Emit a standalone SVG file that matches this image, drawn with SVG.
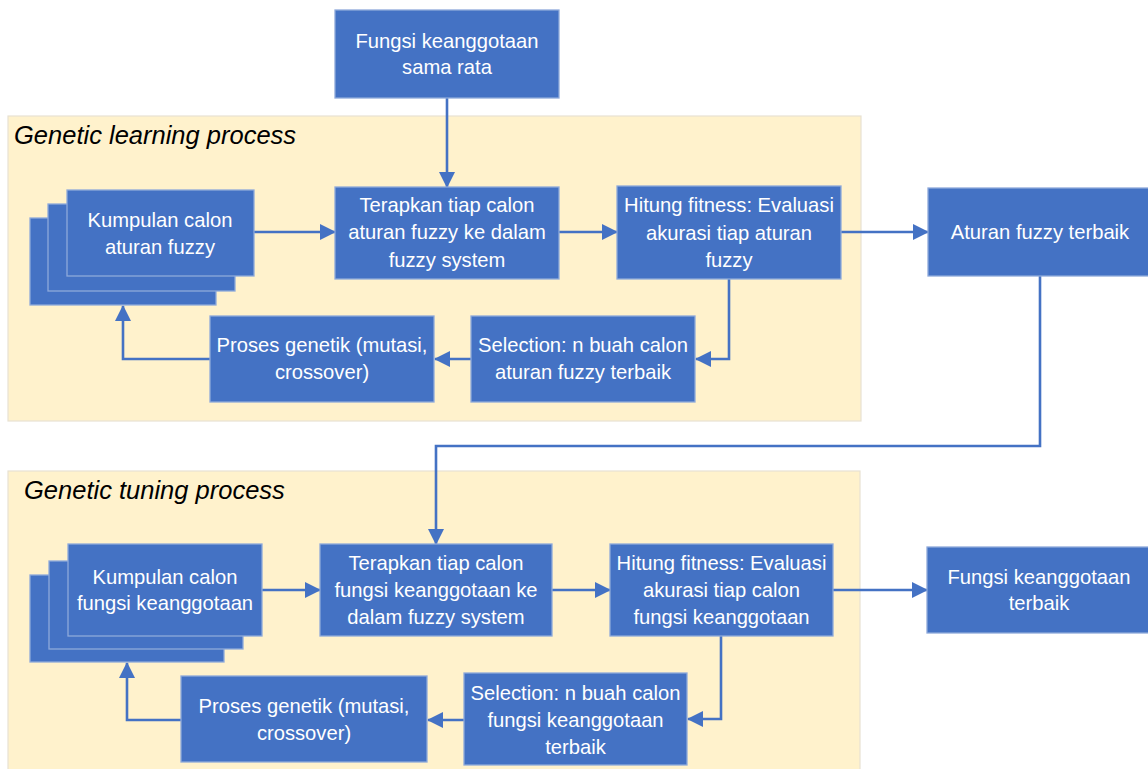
<svg xmlns="http://www.w3.org/2000/svg" width="1148" height="769" viewBox="0 0 1148 769">
<defs>
<style>
.bg{fill:#FFF2CC;stroke:#E8E2D2;stroke-width:1.2}
.box{fill:#4472C4;stroke:#8EA9DB;stroke-width:1.3}
.t{font-family:"Liberation Sans",Arial,sans-serif;font-size:20.2px;fill:#FFFFFF;text-anchor:middle}
.title{font-family:"Liberation Sans",Arial,sans-serif;font-size:25.5px;font-style:italic;fill:#000000}
.c{fill:none;stroke:#4472C4;stroke-width:2.6}
</style>
<marker id="arr" viewBox="0 0 16 16" refX="15" refY="8" markerWidth="16" markerHeight="16" markerUnits="userSpaceOnUse" orient="auto">
<path d="M0,0 L16,8 L0,16 z" fill="#4472C4"/>
</marker>
</defs>
<rect width="1148" height="769" fill="#FFFFFF"/>
<g id="learning-bg">
<rect class="bg" x="8" y="116" width="853" height="305"/>
<text class="title" x="14" y="144">Genetic learning process</text>
</g>
<g id="tuning-bg">
<rect class="bg" x="8" y="471" width="852" height="300"/>
<text class="title" x="24" y="499">Genetic tuning process</text>
</g>
<g id="connectors">
<path class="c" d="M447,98 V187" marker-end="url(#arr)"/>
<path class="c" d="M254,232 H335" marker-end="url(#arr)"/>
<path class="c" d="M559,232 H617" marker-end="url(#arr)"/>
<path class="c" d="M841,232 H928" marker-end="url(#arr)"/>
<path class="c" d="M729,279 V359 H696" marker-end="url(#arr)"/>
<path class="c" d="M471,359 H435" marker-end="url(#arr)"/>
<path class="c" d="M210,359 H123 V306" marker-end="url(#arr)"/>
<path class="c" d="M1040,276 V446 H436 V544" marker-end="url(#arr)"/>
<path class="c" d="M262,590 H320" marker-end="url(#arr)"/>
<path class="c" d="M552,590 H610" marker-end="url(#arr)"/>
<path class="c" d="M833,590 H927" marker-end="url(#arr)"/>
<path class="c" d="M721,636 V719 H688" marker-end="url(#arr)"/>
<path class="c" d="M464,720 H428" marker-end="url(#arr)"/>
<path class="c" d="M181,720 H127 V663" marker-end="url(#arr)"/>
</g>
<g id="fungsi-sama-rata">
<rect class="box" x="335" y="10" width="224" height="88"/>
<text class="t" x="447" y="48">Fungsi keanggotaan</text>
<text class="t" x="447" y="74">sama rata</text>
</g>
<g id="kumpulan-aturan">
<rect class="box" x="30" y="218" width="186" height="87"/>
<rect class="box" x="48" y="204" width="187" height="87"/>
<rect class="box" x="67" y="190" width="187" height="86"/>
<text class="t" x="160" y="227">Kumpulan calon</text>
<text class="t" x="160" y="254">aturan fuzzy</text>
</g>
<g id="terapkan-aturan">
<rect class="box" x="335" y="187" width="224" height="92"/>
<text class="t" x="447" y="212">Terapkan tiap calon</text>
<text class="t" x="447" y="239">aturan fuzzy ke dalam</text>
<text class="t" x="447" y="267">fuzzy system</text>
</g>
<g id="hitung-aturan">
<rect class="box" x="617" y="186" width="224" height="93"/>
<text class="t" x="729" y="212">Hitung fitness: Evaluasi</text>
<text class="t" x="729" y="240">akurasi tiap aturan</text>
<text class="t" x="729" y="267">fuzzy</text>
</g>
<g id="aturan-terbaik">
<rect class="box" x="928" y="188" width="224" height="88"/>
<text class="t" x="1040" y="239">Aturan fuzzy terbaik</text>
</g>
<g id="selection-aturan">
<rect class="box" x="471" y="316" width="224" height="86"/>
<text class="t" x="583" y="352">Selection: n buah calon</text>
<text class="t" x="583" y="379">aturan fuzzy terbaik</text>
</g>
<g id="proses-aturan">
<rect class="box" x="210" y="316" width="224" height="86"/>
<text class="t" x="322" y="352">Proses genetik (mutasi,</text>
<text class="t" x="322" y="379">crossover)</text>
</g>
<g id="kumpulan-fungsi">
<rect class="box" x="30" y="575" width="194" height="87"/>
<rect class="box" x="49" y="561" width="194" height="88"/>
<rect class="box" x="68" y="544" width="194" height="92"/>
<text class="t" x="165" y="584">Kumpulan calon</text>
<text class="t" x="165" y="610">fungsi keanggotaan</text>
</g>
<g id="terapkan-fungsi">
<rect class="box" x="320" y="544" width="232" height="92"/>
<text class="t" x="436" y="570">Terapkan tiap calon</text>
<text class="t" x="436" y="597">fungsi keanggotaan ke</text>
<text class="t" x="436" y="624">dalam fuzzy system</text>
</g>
<g id="hitung-fungsi">
<rect class="box" x="610" y="544" width="223" height="92"/>
<text class="t" x="721.5" y="570">Hitung fitness: Evaluasi</text>
<text class="t" x="721.5" y="597">akurasi tiap calon</text>
<text class="t" x="721.5" y="624">fungsi keanggotaan</text>
</g>
<g id="fungsi-terbaik">
<rect class="box" x="927" y="547" width="224" height="86"/>
<text class="t" x="1039" y="584">Fungsi keanggotaan</text>
<text class="t" x="1039" y="610">terbaik</text>
</g>
<g id="selection-fungsi">
<rect class="box" x="464" y="673" width="223" height="92"/>
<text class="t" x="575.5" y="700">Selection: n buah calon</text>
<text class="t" x="575.5" y="727">fungsi keanggotaan</text>
<text class="t" x="575.5" y="754">terbaik</text>
</g>
<g id="proses-fungsi">
<rect class="box" x="181" y="676" width="246" height="86"/>
<text class="t" x="304" y="713">Proses genetik (mutasi,</text>
<text class="t" x="304" y="740">crossover)</text>
</g>
</svg>
